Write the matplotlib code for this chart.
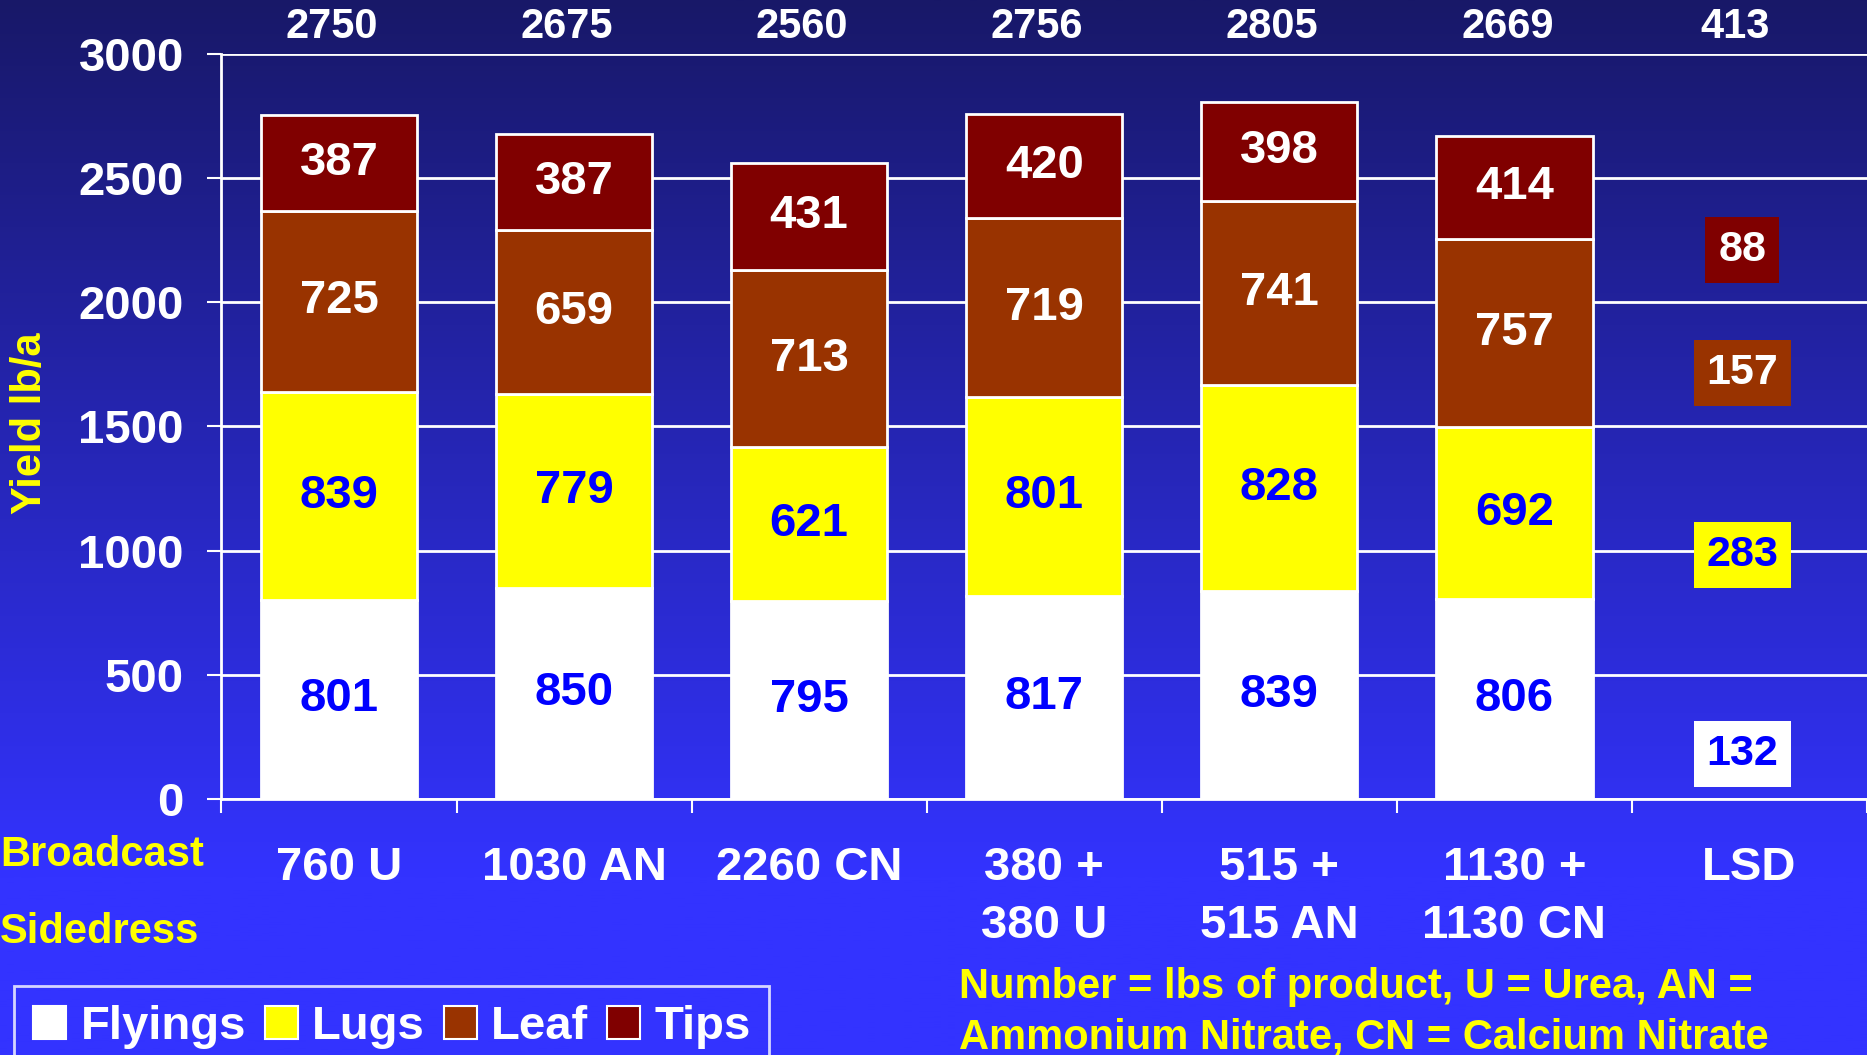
import numpy as np
import matplotlib
matplotlib.use("Agg")
import matplotlib.pyplot as plt
from matplotlib.patches import Patch

plt.rcParams['font.family'] = ['Liberation Sans', 'DejaVu Sans']
plt.rcParams['font.weight'] = 'bold'

# ---- data ----
categories = ["760 U", "1030 AN", "2260 CN", "380 +\n380 U", "515 +\n515 AN", "1130 +\n1130 CN"]
flyings = [801, 850, 795, 817, 839, 806]
lugs = [839, 779, 621, 801, 828, 692]
leaf = [725, 659, 713, 719, 741, 757]
tips = [387, 387, 431, 420, 398, 414]
totals = [2750, 2675, 2560, 2756, 2805, 2669]
lsd_label = "LSD"
lsd_values = [132, 283, 157, 88]      # Flyings, Lugs, Leaf, Tips
lsd_total = 413
lsd_label_y = [182, 982, 1715, 2209]  # where the LSD boxes sit on the yield axis
series_names = ["Flyings", "Lugs", "Leaf", "Tips"]
yticks = [0, 500, 1000, 1500, 2000, 2500, 3000]

# ---- style ----
colors = ["#FFFFFF", "#FFFF00", "#993300", "#800000"]
text_colors = ["#0000FF", "#0000FF", "#FFFFFF", "#FFFFFF"]
YELLOW = "#FFFF00"

W, H = 1867, 1055
fig = plt.figure(figsize=(W / 100, H / 100), dpi=100)

# background gradient
bg = fig.add_axes([0, 0, 1, 1], zorder=-10)
n = 400
t = np.clip(np.linspace(0, 1, n) / 0.83, 0, 1)
top = np.array([24, 24, 104]) / 255
bot = np.array([51, 51, 255]) / 255
grad = top[None, :] * (1 - t[:, None]) + bot[None, :] * t[:, None]
bg.imshow(grad[:, None, :], aspect='auto', extent=[0, 1, 0, 1], origin='upper')
bg.set_axis_off()

ax = fig.add_axes([186 / 1568, 1 - 671 / 886, 1 - 186 / 1568, (671 - 45) / 886])
ax.set_facecolor('none')

ncat = len(categories) + 1
x = np.arange(len(categories)) + 0.5
width = 0.665
series = [flyings, lugs, leaf, tips]
bottom = np.zeros(len(categories))
for vals, c, tc in zip(series, colors, text_colors):
    vals = np.array(vals, dtype=float)
    ax.bar(x, vals, width, bottom=bottom, color=c, edgecolor='white', linewidth=2, zorder=3)
    for xi, b, v in zip(x, bottom, vals):
        ax.text(xi, b + v / 2, f"{int(v)}", ha='center', va='center', color=tc,
                fontsize=34, fontweight='bold', zorder=4)
    bottom += vals

# totals on top
for xi, tot in zip(x, totals):
    ax.text(xi - 0.03, 3105, f"{tot}", ha='center', va='center', color='white',
            fontsize=30, fontweight='bold', clip_on=False)
lsd_x = len(categories) + 0.5
ax.text(lsd_x - 0.06, 3105, f"{lsd_total}", ha='center', va='center', color='white',
        fontsize=30, fontweight='bold', clip_on=False)

# LSD boxes
for v, yv, c, tc in zip(lsd_values, lsd_label_y, colors, text_colors):
    ax.text(lsd_x - 0.03, yv, f"{v}", ha='center', va='center', color=tc,
            fontsize=31, fontweight='bold', zorder=4,
            bbox=dict(boxstyle='square,pad=0.3', facecolor=c, edgecolor='none'))

ax.set_xlim(0, ncat)
ax.set_ylim(0, 3000)
ax.set_yticks(yticks)
ax.set_yticklabels([str(v) for v in yticks])
ax.yaxis.grid(True, color='white', linewidth=2, zorder=0)
ax.set_axisbelow(True)

ax.set_xticks(np.arange(ncat + 1))
ax.set_xticklabels([])
ax.set_xticks(np.arange(ncat) + 0.5, minor=True)
ax.set_xticklabels(categories + [lsd_label], minor=True, fontsize=34, fontweight='bold',
                   color='white', linespacing=1.4, va='top')
ax.tick_params(axis='x', which='major', length=10, width=1.5, color='white', direction='out')
ax.tick_params(axis='x', which='minor', length=0, pad=34)
ax.tick_params(axis='y', length=10, width=1.5, color='white', labelcolor='white',
               labelsize=34, pad=17)
for lab in ax.get_yticklabels():
    lab.set_fontweight('bold')

for s in ['top', 'right']:
    ax.spines[s].set_visible(False)
for s in ['left', 'bottom']:
    ax.spines[s].set_color('white')
    ax.spines[s].set_linewidth(2)

# axis & side labels
fig.text(25 / 1568, 1 - 355 / 886, "Yield lb/a", rotation=90, ha='center', va='center',
         color=YELLOW, fontsize=30, fontweight='bold')
fig.text(0.0, 1 - 718 / 886, "Broadcast", ha='left', va='center', color=YELLOW,
         fontsize=30, fontweight='bold')
fig.text(0.0, 1 - 783 / 886, "Sidedress", ha='left', va='center', color=YELLOW,
         fontsize=30, fontweight='bold')

fig.text(805 / 1568, 1 - 829 / 886, "Number = lbs of product, U = Urea, AN =",
         ha='left', va='center', color=YELLOW, fontsize=30, fontweight='bold')
fig.text(805 / 1568, 1 - 871 / 886, "Ammonium Nitrate, CN = Calcium Nitrate",
         ha='left', va='center', color=YELLOW, fontsize=30, fontweight='bold')

handles = [Patch(facecolor=c, edgecolor='white', linewidth=1.5) for c in colors]
leg = fig.legend(handles, series_names, loc='upper left',
                 bbox_to_anchor=(12 / 1568, 1 - 828 / 886), ncol=4, frameon=True,
                 fancybox=False, fontsize=34, handlelength=0.7, handleheight=0.7,
                 handletextpad=0.3, columnspacing=0.4, borderpad=0.4, borderaxespad=0)
leg.get_frame().set_facecolor('none')
leg.get_frame().set_edgecolor('white')
leg.get_frame().set_linewidth(2)
for txt in leg.get_texts():
    txt.set_color('white')
    txt.set_fontweight('bold')

fig.savefig("out.png", dpi=100)
